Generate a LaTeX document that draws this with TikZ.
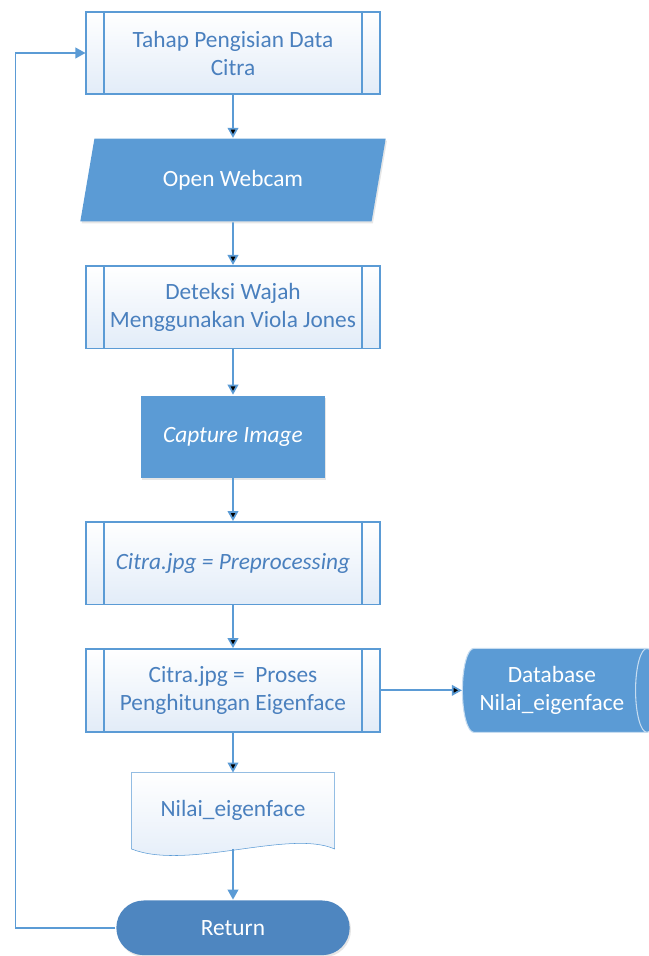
\documentclass[tikz,border=0pt]{standalone}
\usepackage{fontspec}
\setmainfont{Carlito}
\usetikzlibrary{arrows.meta, shapes, positioning, shadows, backgrounds}

\definecolor{lineblue}{RGB}{91,155,213}
\definecolor{darkfill}{RGB}{91,155,213}
\definecolor{retfill}{RGB}{78,134,192}
\definecolor{textblue}{RGB}{74,128,190}
\definecolor{lightfill}{RGB}{226,236,248}

\begin{document}
\begin{tikzpicture}[
            x = 0.75pt, y = -0.75pt, % pixel grid of the reference
            > = {Triangle[length=7.5pt, width=8pt]}, % arrow head style
            node distance = 32pt, % distance between nodes
            line width = 1.3pt, % line style
            font = \fontsize{17.5}{21}\selectfont,
        ]
 \tikzstyle{procbox}=[
            shape = rectangle,
            draw = lineblue,
            top color = white,
            bottom color = lightfill,
            text = textblue,
            align = center,
            minimum width = 220pt,
            minimum height = 62pt,
            path picture = {
              \draw[lineblue, line width=1.3pt]
                ([xshift=13.5pt]path picture bounding box.north west) --
                ([xshift=13.5pt]path picture bounding box.south west)
                ([xshift=-13.5pt]path picture bounding box.north east) --
                ([xshift=-13.5pt]path picture bounding box.south east);
            }
        ]
 \tikzstyle{iobox}=[
            shape = trapezium,
            trapezium left angle = 64,
            trapezium right angle = 116,
            trapezium stretches body,
            fill = darkfill,
            text = white,
            minimum width = 229pt,
            minimum height = 62pt,
            drop shadow = {opacity=0.2, shadow xshift=1pt, shadow yshift=-1.5pt}
        ]
 \tikzstyle{darkbox}=[
            shape = rectangle,
            fill = darkfill,
            text = white,
            minimum width = 138pt,
            minimum height = 61.5pt,
            drop shadow = {opacity=0.2, shadow xshift=1pt, shadow yshift=-1.5pt}
        ]
 \tikzstyle{dbstyle}=[
            shape = cylinder,
            aspect = 0.4,
            cylinder uses custom fill,
            cylinder body fill = darkfill,
            cylinder end fill = darkfill,
            draw = white!65!darkfill,
            line width = 0.8pt,
            text = white,
            align = center,
            minimum width = 63pt,
            minimum height = 147pt
        ]
 \tikzstyle{docbox}=[
            shape = rectangle,
            text = textblue,
            minimum width = 151pt,
            minimum height = 56pt
        ]
 \tikzstyle{termbox}=[
            shape = rectangle,
            rounded corners = 20.5pt,
            fill = retfill,
            text = white,
            minimum width = 175pt,
            minimum height = 41pt,
            drop shadow = {opacity=0.2, shadow xshift=1pt, shadow yshift=-1.5pt}
        ]
 \tikzstyle{flow}=[->, draw = lineblue]

\useasboundingbox (0,0) rectangle (649,956);

\node[procbox] (tahap) at (233,53) {Tahap Pengisian Data\\Citra};
\node[iobox, below=of tahap] (webcam) {Open Webcam};
\node[procbox, below=of webcam] (deteksi) {Deteksi Wajah\\Menggunakan Viola Jones};
\node[darkbox, below=34pt of deteksi] (capture) {\textit{Capture Image}};
\node[procbox, below=of capture] (prepro) {\textit{Citra.jpg = Preprocessing}};
\node[procbox, below=of prepro] (eigen) {Citra.jpg =\ \ Proses\\Penghitungan Eigenface};
\node[dbstyle, right=61pt of eigen] (db) {Database\\Nilai\_eigenface};
\node[docbox, below=30pt of eigen] (nilai) {Nilai\_eigenface};
\node[termbox, below=38pt of nilai] (ret) {Return};

% document outline behind its text
\begin{scope}[on background layer]
\draw[lineblue, top color=white, bottom color=lightfill]
  (nilai.north west) -- (nilai.north east) -- (nilai.south east)
  .. controls +(-45,-20) and +(55,22) .. (nilai.south west) -- cycle;
\end{scope}

\path[flow] (tahap) edge (webcam);
\path[flow] (webcam) edge (deteksi);
\path[flow] (deteksi) edge (capture);
\path[flow] (capture) edge (prepro);
\path[flow] (prepro) edge (eigen);
\path[flow] (eigen) edge (db);
\path[flow] (eigen) edge (nilai);
\draw[flow] (nilai.south) -- (ret);
\draw[flow] (ret.west) -- ++(-100,0) |- (tahap.west);
\end{tikzpicture}
\end{document}
